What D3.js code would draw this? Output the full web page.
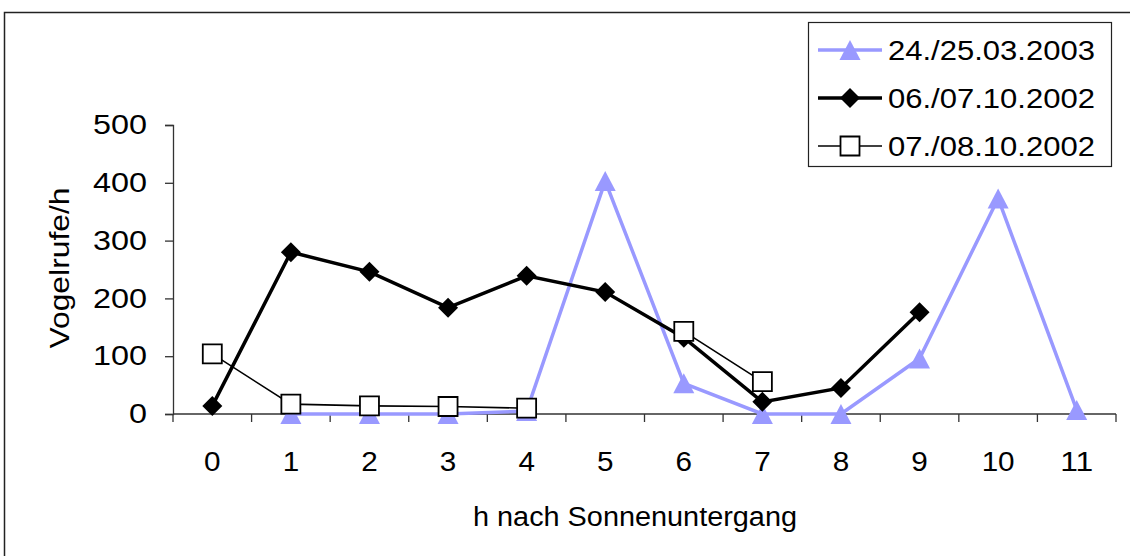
<!DOCTYPE html>
<html>
<head>
<meta charset="utf-8">
<script src="https://cdn.jsdelivr.net/npm/d3@7/dist/d3.min.js"></script>
<style>
  body { margin: 0; background: #fff; }
  text { font-family: "Liberation Sans", Arial, sans-serif; fill: #000; }
</style>
</head>
<body>
<svg id="chart" width="1130" height="556"></svg>
<script>
// data
var hours = [0, 1, 2, 3, 4, 5, 6, 7, 8, 9, 10, 11];
var yTicks = [0, 100, 200, 300, 400, 500];
var mar2003 = [null, 0, 0, 0, 5, 403, 53, 0, 0, 96, 373, 7];
var oct0607 = [14, 280, 246, 184, 239, 211, 132, 21, 45, 176, null, null];
var oct0708 = [104, 17, 14, 13, 10, null, 143, 56, null, null, null, null];
var names = ["24./25.03.2003", "06./07.10.2002", "07./08.10.2002"];

var svg = d3.select("#chart");

// outer frame (runs off the right and bottom edge)
svg.append("rect")
    .attr("x", 4.5).attr("y", 12.5)
    .attr("width", 1140).attr("height", 560)
    .attr("fill", "none").attr("stroke", "#222").attr("stroke-width", 1.5);

var x = d3.scaleBand().domain(hours).range([173, 1116]);
var y = d3.scaleLinear().domain([0, 500]).range([414, 125]);
var cx = function(i) { return x(hours[i]) + x.bandwidth() / 2; };

// y axis
var yAxis = d3.axisLeft(y).tickValues(yTicks).tickSize(8).tickPadding(18);
var gy = svg.append("g").attr("transform", "translate(173,0)").call(yAxis);
gy.select(".domain").attr("stroke", "#333").attr("stroke-width", 1.3);
gy.selectAll(".tick line").attr("stroke", "#333").attr("stroke-width", 1.3);
gy.selectAll(".tick text")
    .attr("font-size", 27).attr("font-family", "Liberation Sans, Arial").attr("fill", "#000")
    .attr("textLength", function(d) { return String(d).length * 18; })
    .attr("lengthAdjust", "spacingAndGlyphs");

// x axis: ticks between categories
var gx = svg.append("g").attr("transform", "translate(0,414)");
gx.append("line").attr("x1", 173).attr("x2", 1116).attr("stroke", "#333").attr("stroke-width", 1.3);
gx.selectAll(".xt").data(hours.concat([12])).enter().append("line")
    .attr("x1", function(d) { return d < 12 ? x(d) : x(11) + x.bandwidth(); })
    .attr("x2", function(d) { return d < 12 ? x(d) : x(11) + x.bandwidth(); })
    .attr("y1", 0).attr("y2", 8)
    .attr("stroke", "#333").attr("stroke-width", 1.3);
gx.selectAll(".xl").data(hours).enter().append("text")
    .attr("x", function(d, i) { return cx(i); })
    .attr("y", 57)
    .attr("text-anchor", "middle")
    .attr("font-size", 28)
    .attr("textLength", function(d) { return String(d).length * 16.5; })
    .attr("lengthAdjust", "spacingAndGlyphs")
    .text(function(d) { return d; });

// axis titles
svg.append("text")
    .attr("x", 635).attr("y", 526)
    .attr("text-anchor", "middle")
    .attr("font-size", 27)
    .attr("textLength", 324).attr("lengthAdjust", "spacingAndGlyphs")
    .text("h nach Sonnenuntergang");
svg.append("text")
    .attr("transform", "translate(69,268) rotate(-90)")
    .attr("text-anchor", "middle")
    .attr("font-size", 28)
    .attr("textLength", 161).attr("lengthAdjust", "spacingAndGlyphs")
    .text("Vogelrufe/h");

var line = d3.line()
    .defined(function(d) { return d != null; })
    .x(function(d, i) { return cx(i); })
    .y(function(d) { return y(d); });

var triangle = "M0,-10L10.5,10L-10.5,10Z";
var diamond = "M0,-10L10,0L0,10L-10,0Z";
var square = "M-9.5,-9.5H9.5V9.5H-9.5Z";

var series = [
  { vals: mar2003, stroke: "#9999FF", width: 3.5, shape: triangle, fill: "#9999FF", mstroke: "none" },
  { vals: oct0607, stroke: "#000", width: 3.5, shape: diamond, fill: "#000", mstroke: "none" },
  { vals: oct0708, stroke: "#000", width: 1.6, shape: square, fill: "#fff", mstroke: "#000" }
];

series.forEach(function(s) {
  svg.append("path")
      .datum(s.vals)
      .attr("d", line)
      .attr("fill", "none")
      .attr("stroke", s.stroke)
      .attr("stroke-width", s.width);
  svg.selectAll(null)
      .data(s.vals.map(function(v, i) { return { v: v, i: i }; }).filter(function(d) { return d.v != null; }))
      .enter().append("path")
      .attr("d", s.shape)
      .attr("transform", function(d) { return "translate(" + cx(d.i) + "," + y(d.v) + ")"; })
      .attr("fill", s.fill)
      .attr("stroke", s.mstroke)
      .attr("stroke-width", 1.8);
});

// legend
var lg = svg.append("g");
lg.append("rect")
    .attr("x", 808.5).attr("y", 22.5)
    .attr("width", 303).attr("height", 144)
    .attr("fill", "#fff").attr("stroke", "#222").attr("stroke-width", 1.2);
var rowsY = [50, 98, 146];
series.forEach(function(s, k) {
  lg.append("line")
      .attr("x1", 818).attr("x2", 882)
      .attr("y1", rowsY[k]).attr("y2", rowsY[k])
      .attr("stroke", s.stroke).attr("stroke-width", s.width);
  lg.append("path")
      .attr("d", s.shape)
      .attr("transform", "translate(850," + rowsY[k] + ")")
      .attr("fill", s.fill).attr("stroke", s.mstroke).attr("stroke-width", 1.8);
  lg.append("text")
      .attr("x", 888).attr("y", rowsY[k] + 10)
      .attr("font-size", 27)
      .attr("textLength", 207).attr("lengthAdjust", "spacingAndGlyphs")
      .text(names[k]);
});
</script>
</body>
</html>
